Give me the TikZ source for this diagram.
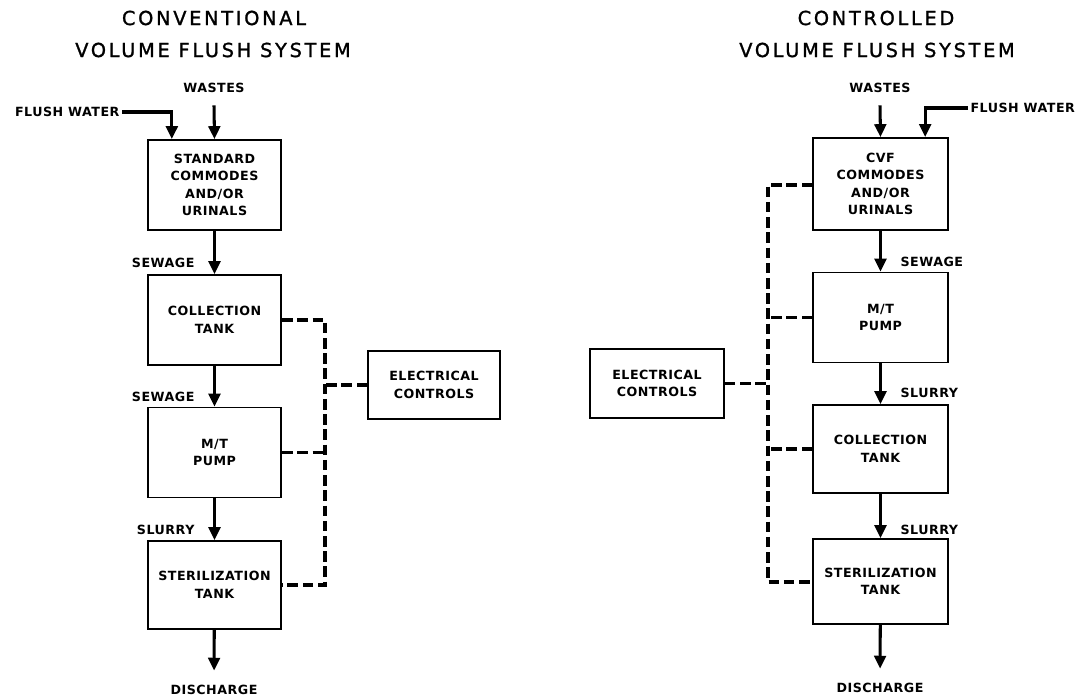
\documentclass[tikz,border=0pt]{standalone}
\usepackage{fontspec}
\newfontfamily\lblfont[LetterSpace=4]{DejaVu Sans}
\newfontfamily\ttlfont[LetterSpace=14,FakeBold=1.2]{DejaVu Sans}
\usetikzlibrary{positioning,calc,arrows.meta}

\begin{document}
\begin{tikzpicture}[x=0.03cm,y=-0.03cm,
  box/.style={draw,line width=1.6pt,minimum width=4cm,minimum height=2.7cm,align=center,
    font=\lblfont\bfseries\fontsize{10.8}{15}\selectfont},
  lbl/.style={font=\lblfont\bfseries\fontsize{10.8}{12}\selectfont,inner sep=2pt},
  ttl/.style={font=\ttlfont\fontsize{16.5}{19}\selectfont},
  arr/.style={line width=2.6pt,-{Triangle[width=10pt,length=11pt]}},
  ctl/.style={line width=2.8pt,dash pattern=on 9pt off 4pt}]
  \useasboundingbox (0,0) rectangle (1087,697);
  % left titles
  \node[ttl] (tLa) at (214,18) {CONVENTIONAL};
  \node[ttl] (tLb) at (213,50) {VOLUME FLUSH SYSTEM};
  % left system
  \node[lbl] (wL) at (214,88) {WASTES};
  \node[lbl,anchor=east] (fwL) at (122,112) {FLUSH WATER};
  \node[box] (lb1) at (214.5,185) {STANDARD\\COMMODES\\AND/OR\\URINALS};
  \node[box] (lb2) at (214.5,320) {COLLECTION\\TANK};
  \node[box] (lb3) at (214.5,452.5) {M/T\\PUMP};
  \node[box,minimum height=2.64cm] (lb4) at (214.5,585) {STERILIZATION\\TANK};
  \node[lbl,anchor=east] (sLa) at (197,263) {SEWAGE};
  \node[lbl,anchor=east] (sLb) at (197,397) {SEWAGE};
  \node[lbl,anchor=east] (sLc) at (197,530) {SLURRY};
  \node[lbl] (dL) at (214,690) {DISCHARGE};
  \node[box,minimum width=3.96cm,minimum height=2.04cm] (ecL) at (434,385) {ELECTRICAL\\CONTROLS};
  \draw[arr] ([yshift=-0.3cm]wL.south) -- (lb1.north);
  \draw[arr] (fwL.east) -| ([xshift=-1.28cm]lb1.north);
  \foreach \s/\t in {lb1/lb2,lb2/lb3,lb3/lb4}
    \draw[arr] (\s) -- (\t);
  \draw[arr,shorten >=0.36cm] (lb4) -- (dL.north);
  % left control lines
  \coordinate (busLt) at (325,320);
  \coordinate (busLb) at (325,585);
  \draw[ctl] (lb2.east) -- (busLt) -- (busLb) -- (lb4.east);
  \draw[ctl] (lb3.east) -- (lb3.east -| busLt);
  \draw[ctl] (ecL.west) -- (ecL.west -| busLt);
  % right titles
  \node[ttl] (tRa) at (876,18) {CONTROLLED};
  \node[ttl] (tRb) at (877,50) {VOLUME FLUSH SYSTEM};
  % right system
  \node[lbl] (wR) at (880,88) {WASTES};
  \node[lbl,anchor=west] (fwR) at (968,108) {FLUSH WATER};
  \node[box,minimum width=4.05cm,minimum height=2.76cm] (rb1) at (880.5,184) {CVF\\COMMODES\\AND/OR\\URINALS};
  \node[box,minimum width=4.05cm] (rb2) at (880.5,317.5) {M/T\\PUMP};
  \node[box,minimum width=4.05cm,minimum height=2.64cm] (rb3) at (880.5,449) {COLLECTION\\TANK};
  \node[box,minimum width=4.05cm,minimum height=2.55cm] (rb4) at (880.5,581.5) {STERILIZATION\\TANK};
  \node[lbl,anchor=west] (sRa) at (898,262) {SEWAGE};
  \node[lbl,anchor=west] (sRb) at (898,393) {SLURRY};
  \node[lbl,anchor=west] (sRc) at (898,530) {SLURRY};
  \node[lbl] (dR) at (880,688) {DISCHARGE};
  \node[box,minimum width=4.02cm,minimum height=2.07cm] (ecR) at (657,383.5) {ELECTRICAL\\CONTROLS};
  \draw[arr] ([yshift=-0.3cm]wR.south) -- (rb1.north);
  \draw[arr] (fwR.west) -| ([xshift=1.34cm]rb1.north);
  \foreach \s/\t in {rb1/rb2,rb2/rb3,rb3/rb4}
    \draw[arr] (\s) -- (\t);
  \draw[arr,shorten >=0.36cm] (rb4) -- (dR.north);
  % right control lines
  \coordinate (busRt) at (768,185);
  \coordinate (busRb) at (768,582);
  \draw[ctl] (rb1.west |- busRt) -- (busRt) -- (busRb) -- (rb4.west |- busRb);
  \draw[ctl] (rb2.west) -- (rb2.west -| busRt);
  \draw[ctl] (rb3.west) -- (rb3.west -| busRt);
  \draw[ctl] (ecR.east) -- (ecR.east -| busRt);
\end{tikzpicture}
\end{document}
